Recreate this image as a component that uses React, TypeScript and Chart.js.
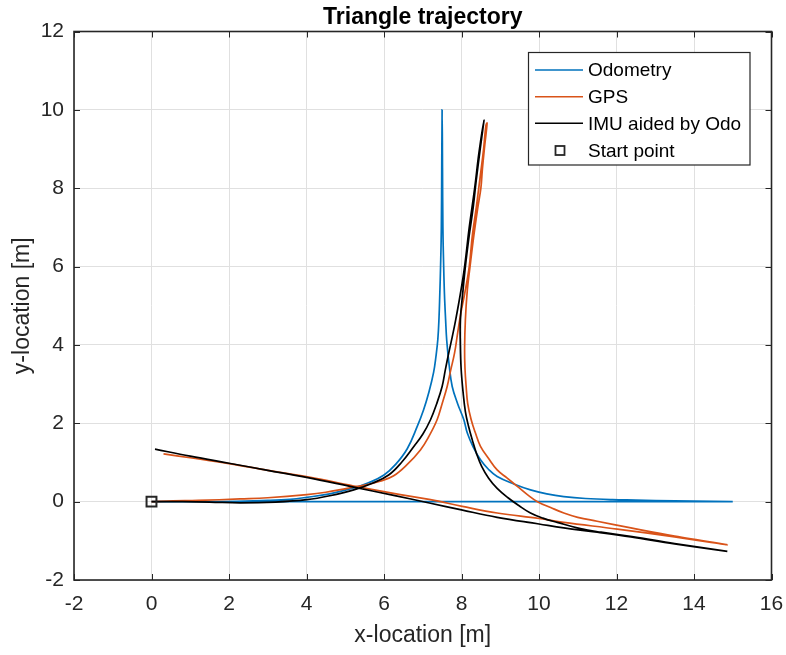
import React, { useEffect, useRef } from "react";
import { Chart, registerables } from "chart.js";

Chart.register(...registerables);

const TITLE = "Triangle trajectory";
const X_LABEL = "x-location [m]";
const Y_LABEL = "y-location [m]";
const SERIES_NAMES = ["Odometry", "GPS", "IMU aided by Odo", "Start point"];
const SERIES_COLORS = ["#0072BD", "#D95319", "#000000", "#262626"];
const X_TICKS = [-2, 0, 2, 4, 6, 8, 10, 12, 14, 16];
const Y_TICKS = [-2, 0, 2, 4, 6, 8, 10, 12];

// Odometry (blue)
const odoX = [0, 5, 10, 13.5, 15,
  13.5, 12.5, 11.9, 11.2, 10.64, 10.2, 9.78, 9.35, 8.92, 8.7, 8.49, 8.3, 8.15, 8.06, 7.9, 7.76, 7.68, 7.62, 7.59, 7.56, 7.54, 7.52, 7.51, 7.5,
  7.49, 7.48, 7.46, 7.44, 7.42, 7.39, 7.34, 7.28, 7.16, 7.02, 6.85, 6.6, 6.3, 6.0, 5.6, 5.22, 4.6, 4.0, 3.58, 3.0, 2.2, 1.2, 0];
const odoY = [0, 0, 0, 0, 0,
  0.02, 0.04, 0.05, 0.08, 0.13, 0.2, 0.3, 0.45, 0.64, 0.82, 1.07, 1.4, 1.75, 2.09, 2.5, 2.94, 3.5, 4.1, 4.64, 5.3, 6.0, 7.0, 8.5, 10,
  8.5, 7.0, 6.0, 5.3, 4.7, 4.15, 3.7, 3.3, 2.8, 2.34, 1.9, 1.35, 0.95, 0.68, 0.48, 0.35, 0.2, 0.11, 0.06, 0.03, 0.01, 0, 0];

// GPS (orange)
const gpsX = [0.31, 1, 2, 3, 4.1, 5.22, 6.42, 7.2, 8.02, 8.92, 10, 10.64, 12.02, 13.5, 14.86,
  13.5, 12.37, 11.5, 11.0, 10.64, 10.3, 9.96, 9.7, 9.44, 9.18, 8.92, 8.7, 8.49, 8.36, 8.25, 8.16, 8.12, 8.09, 8.08, 8.1, 8.15, 8.22, 8.32, 8.42, 8.5, 8.54, 8.6, 8.66,
  8.63, 8.57, 8.47, 8.38, 8.28, 8.2, 8.08, 7.98, 7.9, 7.82, 7.72, 7.63, 7.5, 7.37, 7.15, 6.94, 6.6, 6.25, 5.9, 5.5, 5.05, 4.5, 4.01, 3.0, 2.29, 1.2, 0.56, 0];
const gpsY = [1.22, 1.12, 0.97, 0.8, 0.62, 0.4, 0.18, 0.05, -0.12, -0.29, -0.43, -0.53, -0.7, -0.9, -1.1,
  -0.88, -0.67, -0.5, -0.4, -0.29, -0.15, 0.0, 0.18, 0.39, 0.6, 0.81, 1.1, 1.41, 1.75, 2.09, 2.5, 2.94, 3.4, 3.9, 4.64, 5.4, 6.0, 6.8, 7.5, 8.0, 8.5, 9.1, 9.66,
  9.6, 9.0, 8.2, 7.5, 6.8, 6.0, 5.3, 4.8, 4.3, 3.79, 3.35, 2.94, 2.5, 2.09, 1.65, 1.32, 0.95, 0.66, 0.52, 0.42, 0.34, 0.24, 0.18, 0.1, 0.07, 0.03, 0.02, 0];

// IMU aided by Odo (black)
const imuX = [0.09, 1, 2, 3, 4, 5.22, 6.25, 7.2, 8, 8.92, 10, 10.64, 11.5, 12.37, 13.5, 14.86,
  13.5, 12.4, 11.6, 11.07, 10.47, 10.1, 9.78, 9.48, 9.2, 8.92, 8.7, 8.52, 8.39, 8.28, 8.18, 8.1, 8.04, 7.99, 7.97, 7.97, 8.03, 8.1, 8.2, 8.3, 8.38, 8.47, 8.58,
  8.45, 8.34, 8.2, 8.08, 7.97, 7.85, 7.76, 7.67, 7.58, 7.5, 7.36, 7.2, 7.0, 6.77, 6.45, 6.12, 5.7, 5.22, 4.6, 4.01, 3.2, 2.29, 1.5, 0.8, 0];
const imuY = [1.34, 1.16, 0.98, 0.8, 0.62, 0.37, 0.16, -0.04, -0.21, -0.4, -0.57, -0.67, -0.78, -0.9, -1.08, -1.27,
  -1.07, -0.89, -0.78, -0.69, -0.53, -0.42, -0.29, -0.1, 0.1, 0.34, 0.6, 0.9, 1.22, 1.57, 1.93, 2.3, 2.8, 3.4, 4.0, 4.64, 5.3, 6.0, 6.8, 7.5, 8.2, 8.9, 9.74,
  8.9, 8.0, 7.0, 6.0, 5.3, 4.64, 4.2, 3.79, 3.35, 2.94, 2.5, 2.09, 1.72, 1.41, 1.0, 0.68, 0.47, 0.3, 0.15, 0.05, -0.01, -0.03, -0.01, 0, 0];

// Start point
const startX = [0];
const startY = [0];

const toPoints = (xs: number[], ys: number[]) => xs.map((x, i) => ({ x, y: ys[i] }));

const FONT = "'Liberation Sans', Arial, Helvetica, sans-serif";
const AXIS_COLOR = "#262626";

const matlabAxesPlugin = {
  id: "matlabAxes",
  afterDatasetsDraw(chart: any) {
    const { ctx, chartArea, scales } = chart;
    const { left, right, top, bottom } = chartArea;
    const xs = scales.x;
    const ys = scales.y;
    const tl = 6;
    ctx.save();
    ctx.strokeStyle = AXIS_COLOR;
    ctx.lineWidth = 1;
    ctx.beginPath();
    X_TICKS.forEach((v) => {
      const px = Math.round(xs.getPixelForValue(v)) + 0.5;
      ctx.moveTo(px, bottom);
      ctx.lineTo(px, bottom - tl);
      ctx.moveTo(px, top);
      ctx.lineTo(px, top + tl);
    });
    Y_TICKS.forEach((v) => {
      const py = Math.round(ys.getPixelForValue(v)) + 0.5;
      ctx.moveTo(left, py);
      ctx.lineTo(left + tl, py);
      ctx.moveTo(right, py);
      ctx.lineTo(right - tl, py);
    });
    ctx.stroke();
    ctx.lineWidth = 1.6;
    ctx.strokeRect(left, top, right - left, bottom - top);
    ctx.restore();
  },
  afterDraw(chart: any) {
    const { ctx, chartArea } = chart;
    const { left, right } = chartArea;
    ctx.save();
    // Title
    ctx.fillStyle = "#000000";
    ctx.font = `bold 23px ${FONT}`;
    ctx.textAlign = "center";
    ctx.textBaseline = "alphabetic";
    ctx.fillText(TITLE, (left + right) / 2, 23.5);

    // Legend
    const bx = 528.5, by = 52.5, bw = 221.5, bh = 112.5;
    ctx.fillStyle = "#ffffff";
    ctx.fillRect(bx, by, bw, bh);
    ctx.strokeStyle = AXIS_COLOR;
    ctx.lineWidth = 1.2;
    ctx.strokeRect(bx, by, bw, bh);
    const rows = [70, 96.7, 123.3, 150.5];
    ctx.font = `19px ${FONT}`;
    ctx.textAlign = "left";
    ctx.textBaseline = "middle";
    SERIES_NAMES.forEach((name, i) => {
      const ry = rows[i];
      if (i < 3) {
        ctx.strokeStyle = SERIES_COLORS[i];
        ctx.lineWidth = 1.6;
        ctx.beginPath();
        ctx.moveTo(535, ry);
        ctx.lineTo(583, ry);
        ctx.stroke();
      } else {
        ctx.strokeStyle = SERIES_COLORS[i];
        ctx.lineWidth = 1.8;
        ctx.strokeRect(555.5, ry - 4.5, 9, 9);
      }
      ctx.fillStyle = "#000000";
      ctx.fillText(name, 588, ry + 1);
    });
    ctx.restore();
  },
};

export default function App() {
  const canvasRef = useRef<HTMLCanvasElement | null>(null);

  useEffect(() => {
    document.body.style.margin = "0";
    const canvas = canvasRef.current;
    if (!canvas) return;
    const lineDs = (i: number, xs: number[], ys: number[], order: number) => ({
      label: SERIES_NAMES[i],
      data: toPoints(xs, ys),
      showLine: true,
      borderColor: SERIES_COLORS[i],
      backgroundColor: SERIES_COLORS[i],
      borderWidth: 1.7,
      pointRadius: 0,
      pointHoverRadius: 0,
      tension: 0.4,
      fill: false,
      order,
    });
    const chart = new Chart(canvas, {
      type: "scatter",
      data: {
        datasets: [
          lineDs(0, odoX, odoY, 4),
          lineDs(1, gpsX, gpsY, 3),
          lineDs(2, imuX, imuY, 2),
          {
            label: SERIES_NAMES[3],
            data: toPoints(startX, startY),
            showLine: false,
            pointStyle: "rect",
            pointRadius: 7,
            borderColor: SERIES_COLORS[3],
            backgroundColor: "rgba(255,255,255,0)",
            pointBorderWidth: 2,
            borderWidth: 2,
            order: 1,
          } as any,
        ],
      },
      options: {
        responsive: false,
        animation: false,
        devicePixelRatio: 1,
        layout: { padding: { top: 31.5, right: 14.5, bottom: 0, left: 0 } },
        plugins: {
          legend: { display: false },
          title: { display: false },
          tooltip: { enabled: false },
        },
        scales: {
          x: {
            type: "linear",
            min: -2,
            max: 16,
            ticks: {
              stepSize: 2,
              color: AXIS_COLOR,
              font: { family: FONT, size: 21 },
              padding: 12,
              maxRotation: 0,
            },
            grid: { color: "#e0e0e0", lineWidth: 1, drawTicks: false },
            border: { display: false },
            title: {
              display: true,
              text: X_LABEL,
              color: AXIS_COLOR,
              font: { family: FONT, size: 23 },
              padding: { top: 0, bottom: 6 },
            },
            afterFit(scale: any) {
              scale.height = 75;
              scale.paddingLeft = 0;
              scale.paddingRight = 0;
            },
          },
          y: {
            type: "linear",
            min: -2,
            max: 12,
            ticks: {
              stepSize: 2,
              color: AXIS_COLOR,
              font: { family: FONT, size: 21 },
              padding: 10,
            },
            grid: { color: "#e0e0e0", lineWidth: 1, drawTicks: false },
            border: { display: false },
            title: {
              display: true,
              text: Y_LABEL,
              color: AXIS_COLOR,
              font: { family: FONT, size: 23 },
              padding: { top: 9, bottom: 0 },
            },
            afterFit(scale: any) {
              scale.width = 74;
              scale.paddingTop = 0;
              scale.paddingBottom = 0;
            },
          },
        },
      } as any,
      plugins: [matlabAxesPlugin],
    });
    return () => chart.destroy();
  }, []);

  return (
    <div style={{ position: "fixed", left: 0, top: 0, width: 786, height: 655, background: "#ffffff" }}>
      <canvas ref={canvasRef} width={786} height={655} style={{ width: 786, height: 655, display: "block" }} />
    </div>
  );
}
